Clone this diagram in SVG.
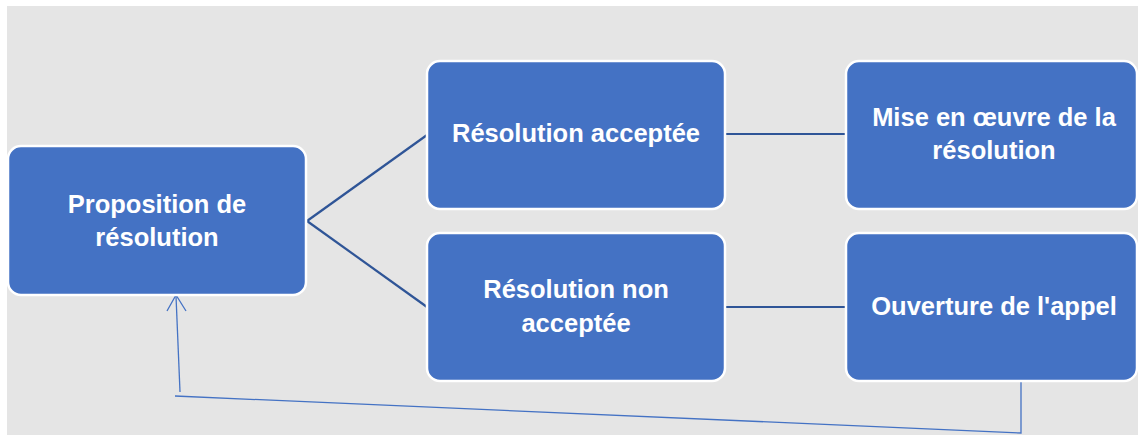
<svg xmlns="http://www.w3.org/2000/svg" width="1138" height="435" viewBox="0 0 1138 435">
<style>
.box{fill:#4472C4;stroke:#FFFFFF;stroke-width:2.5}
.lbl{font-family:"Liberation Sans",Arial,sans-serif;font-weight:bold;font-size:25.5px;fill:#FFFFFF;text-anchor:middle}
.conn{stroke:#2F5597;stroke-width:2.2;fill:none}
.fb{stroke:#4472C4;stroke-width:1.3;fill:none}
</style>
<rect x="0" y="0" width="1138" height="435" fill="#FFFFFF"/>
<rect x="7" y="6" width="1131" height="429" fill="#E5E5E5"/>
<g id="connectors">
<line class="conn" x1="307" y1="221" x2="427" y2="135"/>
<line class="conn" x1="307" y1="221" x2="427" y2="307"/>
<line class="conn" x1="725" y1="134" x2="846" y2="134"/>
<line class="conn" x1="725" y1="307" x2="846" y2="307"/>
<polyline class="fb" points="1021,381 1021,433 175,396"/>
<line class="fb" x1="180" y1="392" x2="176" y2="296"/>
<polyline class="fb" points="167,311 176,295 186,311"/>
</g>
<g id="n-proposition">
<rect class="box" x="8" y="146" width="298" height="149" rx="13"/>
<text class="lbl" x="157" y="213">Proposition de</text>
<text class="lbl" x="157" y="246">résolution</text>
</g>
<g id="n-acceptee">
<rect class="box" x="427" y="61" width="298" height="148" rx="13"/>
<text class="lbl" x="576" y="142">Résolution acceptée</text>
</g>
<g id="n-non-acceptee">
<rect class="box" x="427" y="233" width="298" height="148" rx="13"/>
<text class="lbl" x="576" y="298">Résolution non</text>
<text class="lbl" x="576" y="332">acceptée</text>
</g>
<g id="n-mise-en-oeuvre">
<rect class="box" x="846" y="61" width="291" height="148" rx="13"/>
<text class="lbl" x="994" y="126">Mise en œuvre de la</text>
<text class="lbl" x="994" y="159">résolution</text>
</g>
<g id="n-appel">
<rect class="box" x="846" y="233" width="291" height="148" rx="13"/>
<text class="lbl" x="994" y="315">Ouverture de l'appel</text>
</g>
</svg>
